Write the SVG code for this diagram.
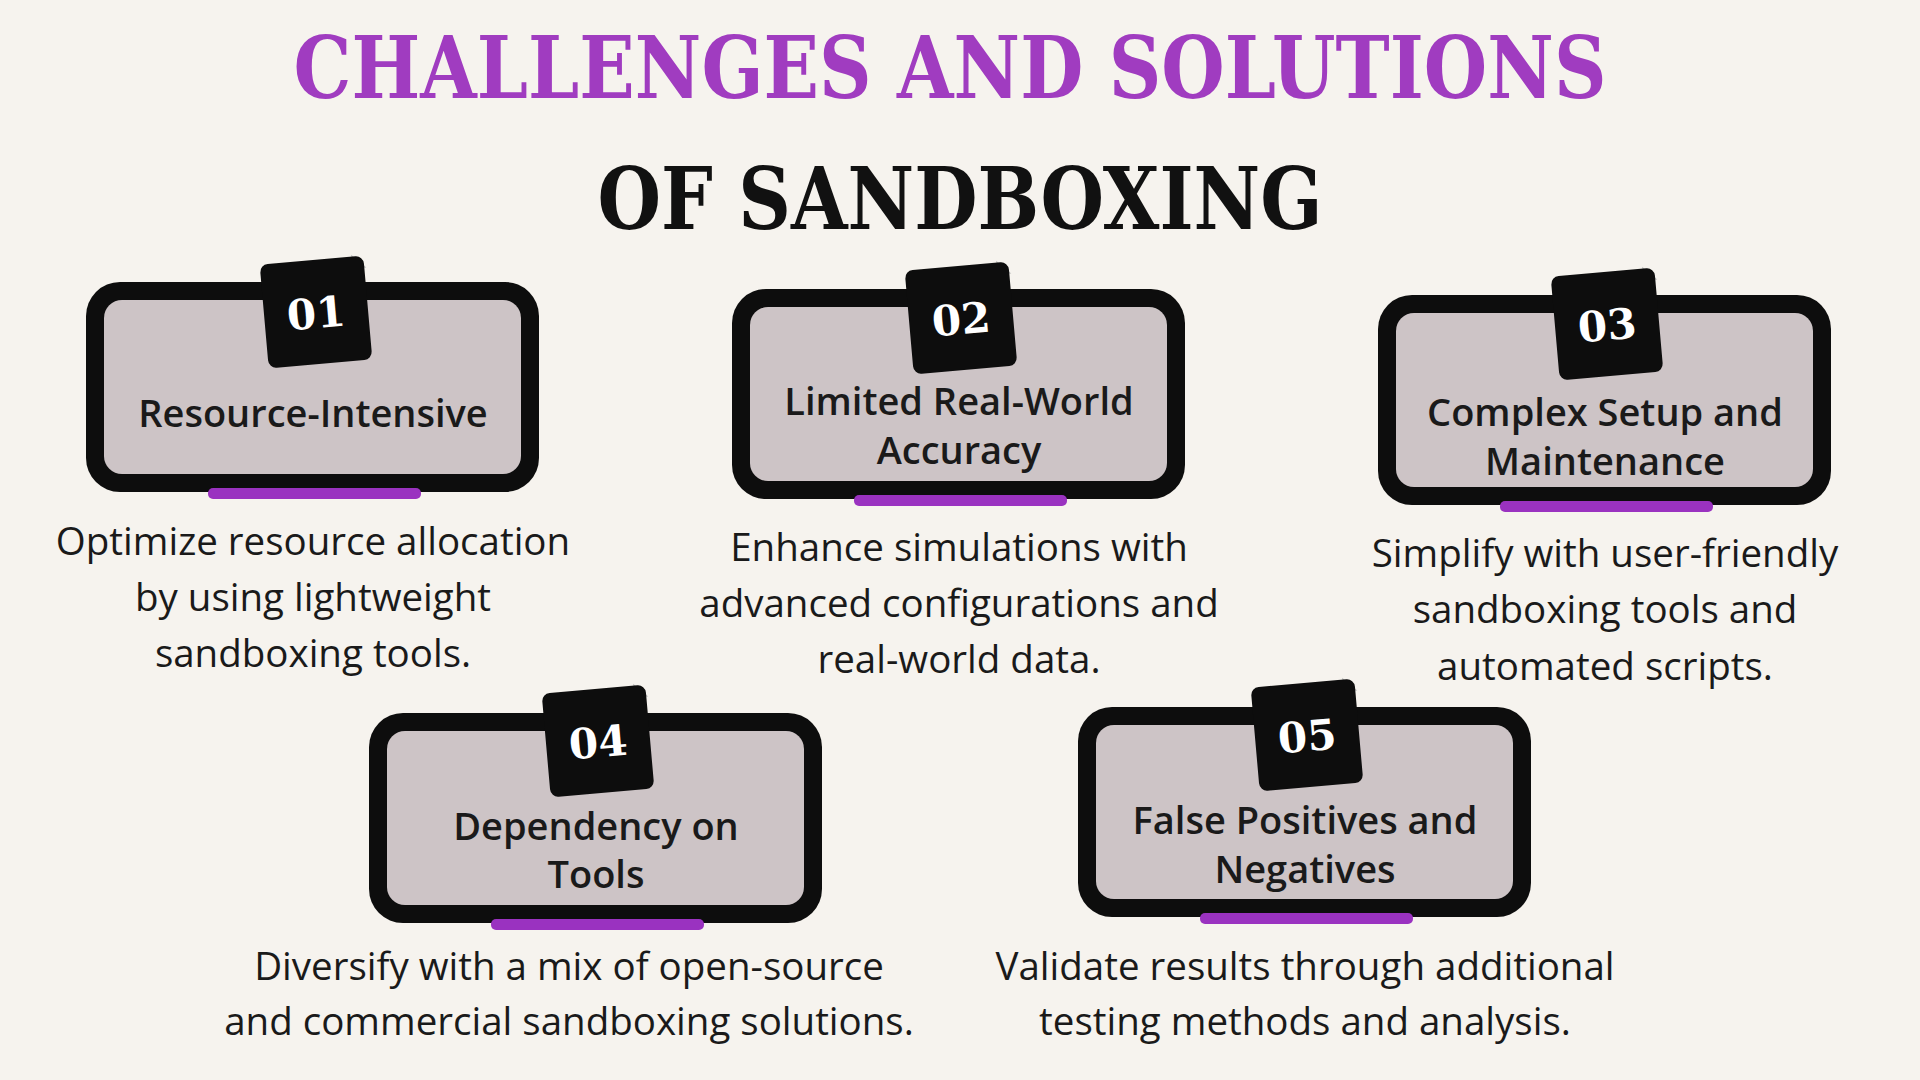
<svg xmlns="http://www.w3.org/2000/svg" width="1920" height="1080" viewBox="0 0 1920 1080">
<style>
.t1{font-family:"DejaVu Serif","Liberation Serif",serif;font-weight:bold;font-size:86px;fill:#a03cc0;text-anchor:middle}
.t2{font-family:"DejaVu Serif","Liberation Serif",serif;font-weight:bold;font-size:86px;fill:#111;text-anchor:middle}
.outer{fill:#0d0d0d}
.inner{fill:#cdc4c6}
.bar{fill:#9a32c0}
.badge{fill:#0d0d0d}
.fold{fill:#bbb}
.num{font-family:"DejaVu Serif","Liberation Serif",serif;font-weight:bold;font-size:42px;fill:#fff;text-anchor:middle}
.ct{font-family:"Open Sans",sans-serif;font-weight:600;font-size:38px;fill:#1a1a1a;text-anchor:middle}
.d{font-family:"Open Sans",sans-serif;font-size:38.5px;fill:#1a1a1a;text-anchor:middle}
</style>
<defs>
<g id="card">
<rect class="outer" x="0" y="0" width="453" height="210" rx="34"/>
<rect class="inner" x="18" y="18" width="417" height="174" rx="18"/>
<rect class="bar" x="122" y="206" width="213" height="11" rx="5"/>
</g>
<g id="badge">
<g transform="rotate(-5)">
<polygon class="fold" points="40,-54 54,-40 40,-40"/>
<rect class="badge" x="-52" y="-52" width="104" height="104" rx="8"/>
</g>
</g>
</defs>
<rect width="1920" height="1080" fill="#f6f3ee"/>
<text class="t1" x="950" y="98" textLength="1313" lengthAdjust="spacingAndGlyphs">CHALLENGES AND SOLUTIONS</text>
<text class="t2" x="960" y="229" textLength="725" lengthAdjust="spacingAndGlyphs">OF SANDBOXING</text>

<g id="node1" transform="translate(86,282)">
<use href="#card"/>
<use href="#badge" x="230" y="30"/>
<text class="num" x="230" y="46" transform="rotate(-5 230 30)">01</text>
<text class="ct" x="227" y="145">Resource-Intensive</text>
<text class="d" x="227" y="273">Optimize resource allocation</text>
<text class="d" x="227" y="329">by using lightweight</text>
<text class="d" x="227" y="385">sandboxing tools.</text>
</g>
<g id="node2" transform="translate(732,289)">
<use href="#card"/>
<use href="#badge" x="229" y="29"/>
<text class="num" x="229" y="45" transform="rotate(-5 229 29)">02</text>
<text class="ct" x="227" y="126">Limited Real-World</text>
<text class="ct" x="227" y="175">Accuracy</text>
<text class="d" x="227" y="272">Enhance simulations with</text>
<text class="d" x="227" y="328">advanced configurations and</text>
<text class="d" x="227" y="384">real-world data.</text>
</g>
<g id="node3" transform="translate(1378,295)">
<use href="#card"/>
<use href="#badge" x="229" y="29"/>
<text class="num" x="229" y="45" transform="rotate(-5 229 29)">03</text>
<text class="ct" x="227" y="131">Complex Setup and</text>
<text class="ct" x="227" y="180">Maintenance</text>
<text class="d" x="227" y="272">Simplify with user-friendly</text>
<text class="d" x="227" y="328">sandboxing tools and</text>
<text class="d" x="227" y="385">automated scripts.</text>
</g>
<g id="node4" transform="translate(369,713)">
<use href="#card"/>
<use href="#badge" x="229" y="28"/>
<text class="num" x="229" y="44" transform="rotate(-5 229 28)">04</text>
<text class="ct" x="227" y="127">Dependency on</text>
<text class="ct" x="227" y="175">Tools</text>
<text class="d" x="200" y="267">Diversify with a mix of open-source</text>
<text class="d" x="200" y="322">and commercial sandboxing solutions.</text>
</g>
<g id="node5" transform="translate(1078,707)">
<use href="#card"/>
<use href="#badge" x="229" y="28"/>
<text class="num" x="229" y="44" transform="rotate(-5 229 28)">05</text>
<text class="ct" x="227" y="127">False Positives and</text>
<text class="ct" x="227" y="176">Negatives</text>
<text class="d" x="227" y="273">Validate results through additional</text>
<text class="d" x="227" y="328">testing methods and analysis.</text>
</g>
<g id="connectors"/>
</svg>
